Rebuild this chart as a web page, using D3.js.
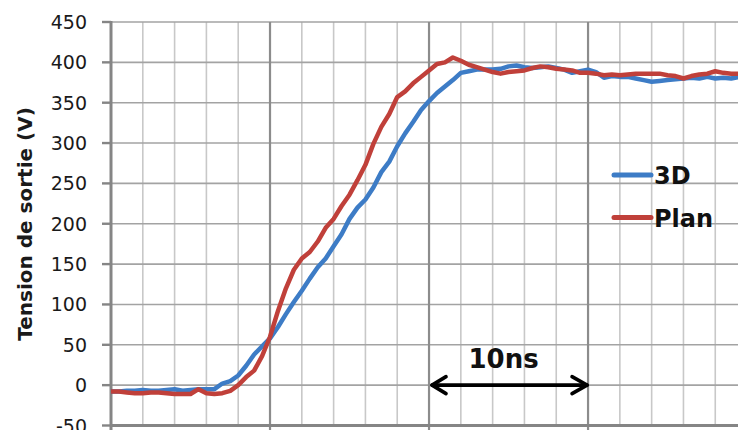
<!DOCTYPE html>
<html><head><meta charset="utf-8">
<script src="https://cdn.jsdelivr.net/npm/d3@7"></script>
<style>html,body{margin:0;padding:0;background:#fff;overflow:hidden}</style>
</head><body><svg id="c" width="738" height="430"></svg>
<script>
// ---- data ----
const timeNs = [
  0,0.5,1,1.5,2,2.5,3,3.5,4,4.5,
  5,5.5,6,6.5,7,7.5,8,8.5,9,9.5,
  10,10.5,11,11.5,12,12.5,13,13.5,14,14.5,
  15,15.5,16,16.5,17,17.5,18,18.5,19,19.5,
  20,20.5,21,21.5,22,22.5,23,23.5,24,24.5,
  25,25.5,26,26.5,27,27.5,28,28.5,29,29.5,
  30,30.5,31,31.5,32,32.5,33,33.5,34,34.5,
  35,35.5,36,36.5,37,37.5,38,38.5,39,39.5];
const values3D = [
  -8,-8,-7,-7,-6,-7,-7,-6,-5,-7,
  -6,-5,-5,-5,2,5,12,24,38,48,
  58,72,88,103,117,132,146,157,172,187,
  206,220,230,245,264,277,296,312,326,341,
  352,362,370,378,387,389,391,391,391,392,
  395,396,394,393,394,395,393,391,387,389,
  391,388,381,383,382,382,380,378,376,377,
  378,379,380,381,380,382,380,381,380,382];
const valuesPlan = [
  -8,-8,-9,-10,-10,-9,-9,-10,-11,-11,
  -11,-5,-10,-11,-10,-7,0,10,18,36,
  60,92,120,143,157,165,178,195,206,222,
  236,254,273,299,320,336,357,364,374,382,
  390,398,400,406,402,397,394,391,388,386,
  388,389,390,393,395,394,392,391,390,387,
  387,386,384,385,384,385,386,386,386,386,
  384,383,380,383,385,386,389,387,386,386];
const seriesNames = ["3D", "Plan"];
const yTickValues = [-50,0,50,100,150,200,250,300,350,400,450];
const xMinorTicks = [2,4,6,8,12,14,16,18,22,24,26,28,32,34,36,38];
const xMajorTicks = [0,10,20,30];
const yTitle = "Tension de sortie  (V)";
const spanLabel = "10ns";
const spanFrom = 20, spanTo = 30, spanLevel = 0;

// ---- layout ----
const svg = d3.select("#c");
const pL = 111, pR = 738, pT = 22, pB = 425.5;
const x = d3.scaleLinear().domain([0, 39.43]).range([pL, pR]);
const y = d3.scaleLinear().domain([-50, 450]).range([pB, pT]);
const colors = {"3D": "#3d7cc6", "Plan": "#c0403a"};
const FONT = "'DejaVu Sans', sans-serif";

svg.append("clipPath").attr("id", "clip").append("rect")
  .attr("x", pL).attr("y", 0).attr("width", pR - pL).attr("height", pB + 2);

// grid
const g = svg.append("g");
g.selectAll(".vmin").data(xMinorTicks).enter().append("line")
  .attr("x1", d => x(d)).attr("x2", d => x(d)).attr("y1", pT).attr("y2", pB)
  .attr("stroke", "#c8c8c8").attr("stroke-width", 1.6);
g.selectAll(".hgrid").data(yTickValues).enter().append("line")
  .attr("x1", pL).attr("x2", pR).attr("y1", d => y(d)).attr("y2", d => y(d))
  .attr("stroke", "#a3a3a3").attr("stroke-width", 1.6);
g.selectAll(".vmaj").data(xMajorTicks.filter(d => d > 0)).enter().append("line")
  .attr("x1", d => x(d)).attr("x2", d => x(d)).attr("y1", pT).attr("y2", pB + 5)
  .attr("stroke", "#8c8c8c").attr("stroke-width", 2.2);

// axes
svg.append("line").attr("x1", pL).attr("x2", pL).attr("y1", pT - 1).attr("y2", pB + 5)
  .attr("stroke", "#858585").attr("stroke-width", 3);
svg.append("line").attr("x1", pL).attr("x2", pR).attr("y1", pB).attr("y2", pB)
  .attr("stroke", "#858585").attr("stroke-width", 3);
svg.selectAll(".ytick").data(yTickValues).enter().append("line")
  .attr("x1", pL - 9).attr("x2", pL).attr("y1", d => y(d)).attr("y2", d => y(d))
  .attr("stroke", "#858585").attr("stroke-width", 2.4);
svg.selectAll(".ylab").data(yTickValues).enter().append("text")
  .attr("x", 87).attr("y", d => y(d) + 7)
  .attr("text-anchor", "end").attr("font-family", FONT).attr("font-size", 19)
  .attr("fill", "#1a1a1a").text(d => d);

// y title
svg.append("text").attr("transform", "translate(32,224) rotate(-90)")
  .attr("text-anchor", "middle").attr("font-family", FONT).attr("font-size", 20)
  .attr("font-weight", "bold").attr("fill", "#1a1a1a").text(yTitle);

// series
const line = d3.line().x(d => x(d[0])).y(d => y(d[1]));
const plot = svg.append("g").attr("clip-path", "url(#clip)");
[["3D", values3D], ["Plan", valuesPlan]].forEach(([name, vals]) => {
  plot.append("path").datum(timeNs.map((t, i) => [t, vals[i]]))
    .attr("d", line).attr("fill", "none").attr("stroke", colors[name])
    .attr("stroke-width", 4.5).attr("stroke-linejoin", "round").attr("stroke-linecap", "round");
});

// span annotation
const ay = y(spanLevel);
const ann = svg.append("g").attr("stroke", "#000").attr("stroke-width", 3.6)
  .attr("fill", "none").attr("stroke-linecap", "round").attr("stroke-linejoin", "round");
ann.append("line").attr("x1", x(spanFrom) + 3).attr("x2", x(spanTo) - 1).attr("y1", ay).attr("y2", ay);
ann.append("path").attr("d", `M${x(spanFrom)+17},${ay-8.5} L${x(spanFrom)+3},${ay} L${x(spanFrom)+17},${ay+8.5}`);
ann.append("path").attr("d", `M${x(spanTo)-16},${ay-8.5} L${x(spanTo)-1},${ay} L${x(spanTo)-16},${ay+8.5}`);
svg.append("text").attr("x", (x(spanFrom) + x(spanTo)) / 2 - 5).attr("y", 368)
  .attr("text-anchor", "middle").attr("font-family", FONT).attr("font-size", 26)
  .attr("font-weight", "bold").attr("fill", "#111").text(spanLabel);

// legend
const leg = svg.append("g");
seriesNames.forEach((name, i) => {
  const ly = 175 + i * 42.5;
  leg.append("line").attr("x1", 614).attr("x2", 651).attr("y1", ly).attr("y2", ly)
    .attr("stroke", colors[name]).attr("stroke-width", 5).attr("stroke-linecap", "round");
  leg.append("text").attr("x", 654).attr("y", ly + 9).attr("font-family", FONT)
    .attr("font-size", 24).attr("font-weight", "bold").attr("fill", "#111").text(name);
});
</script></body></html>
